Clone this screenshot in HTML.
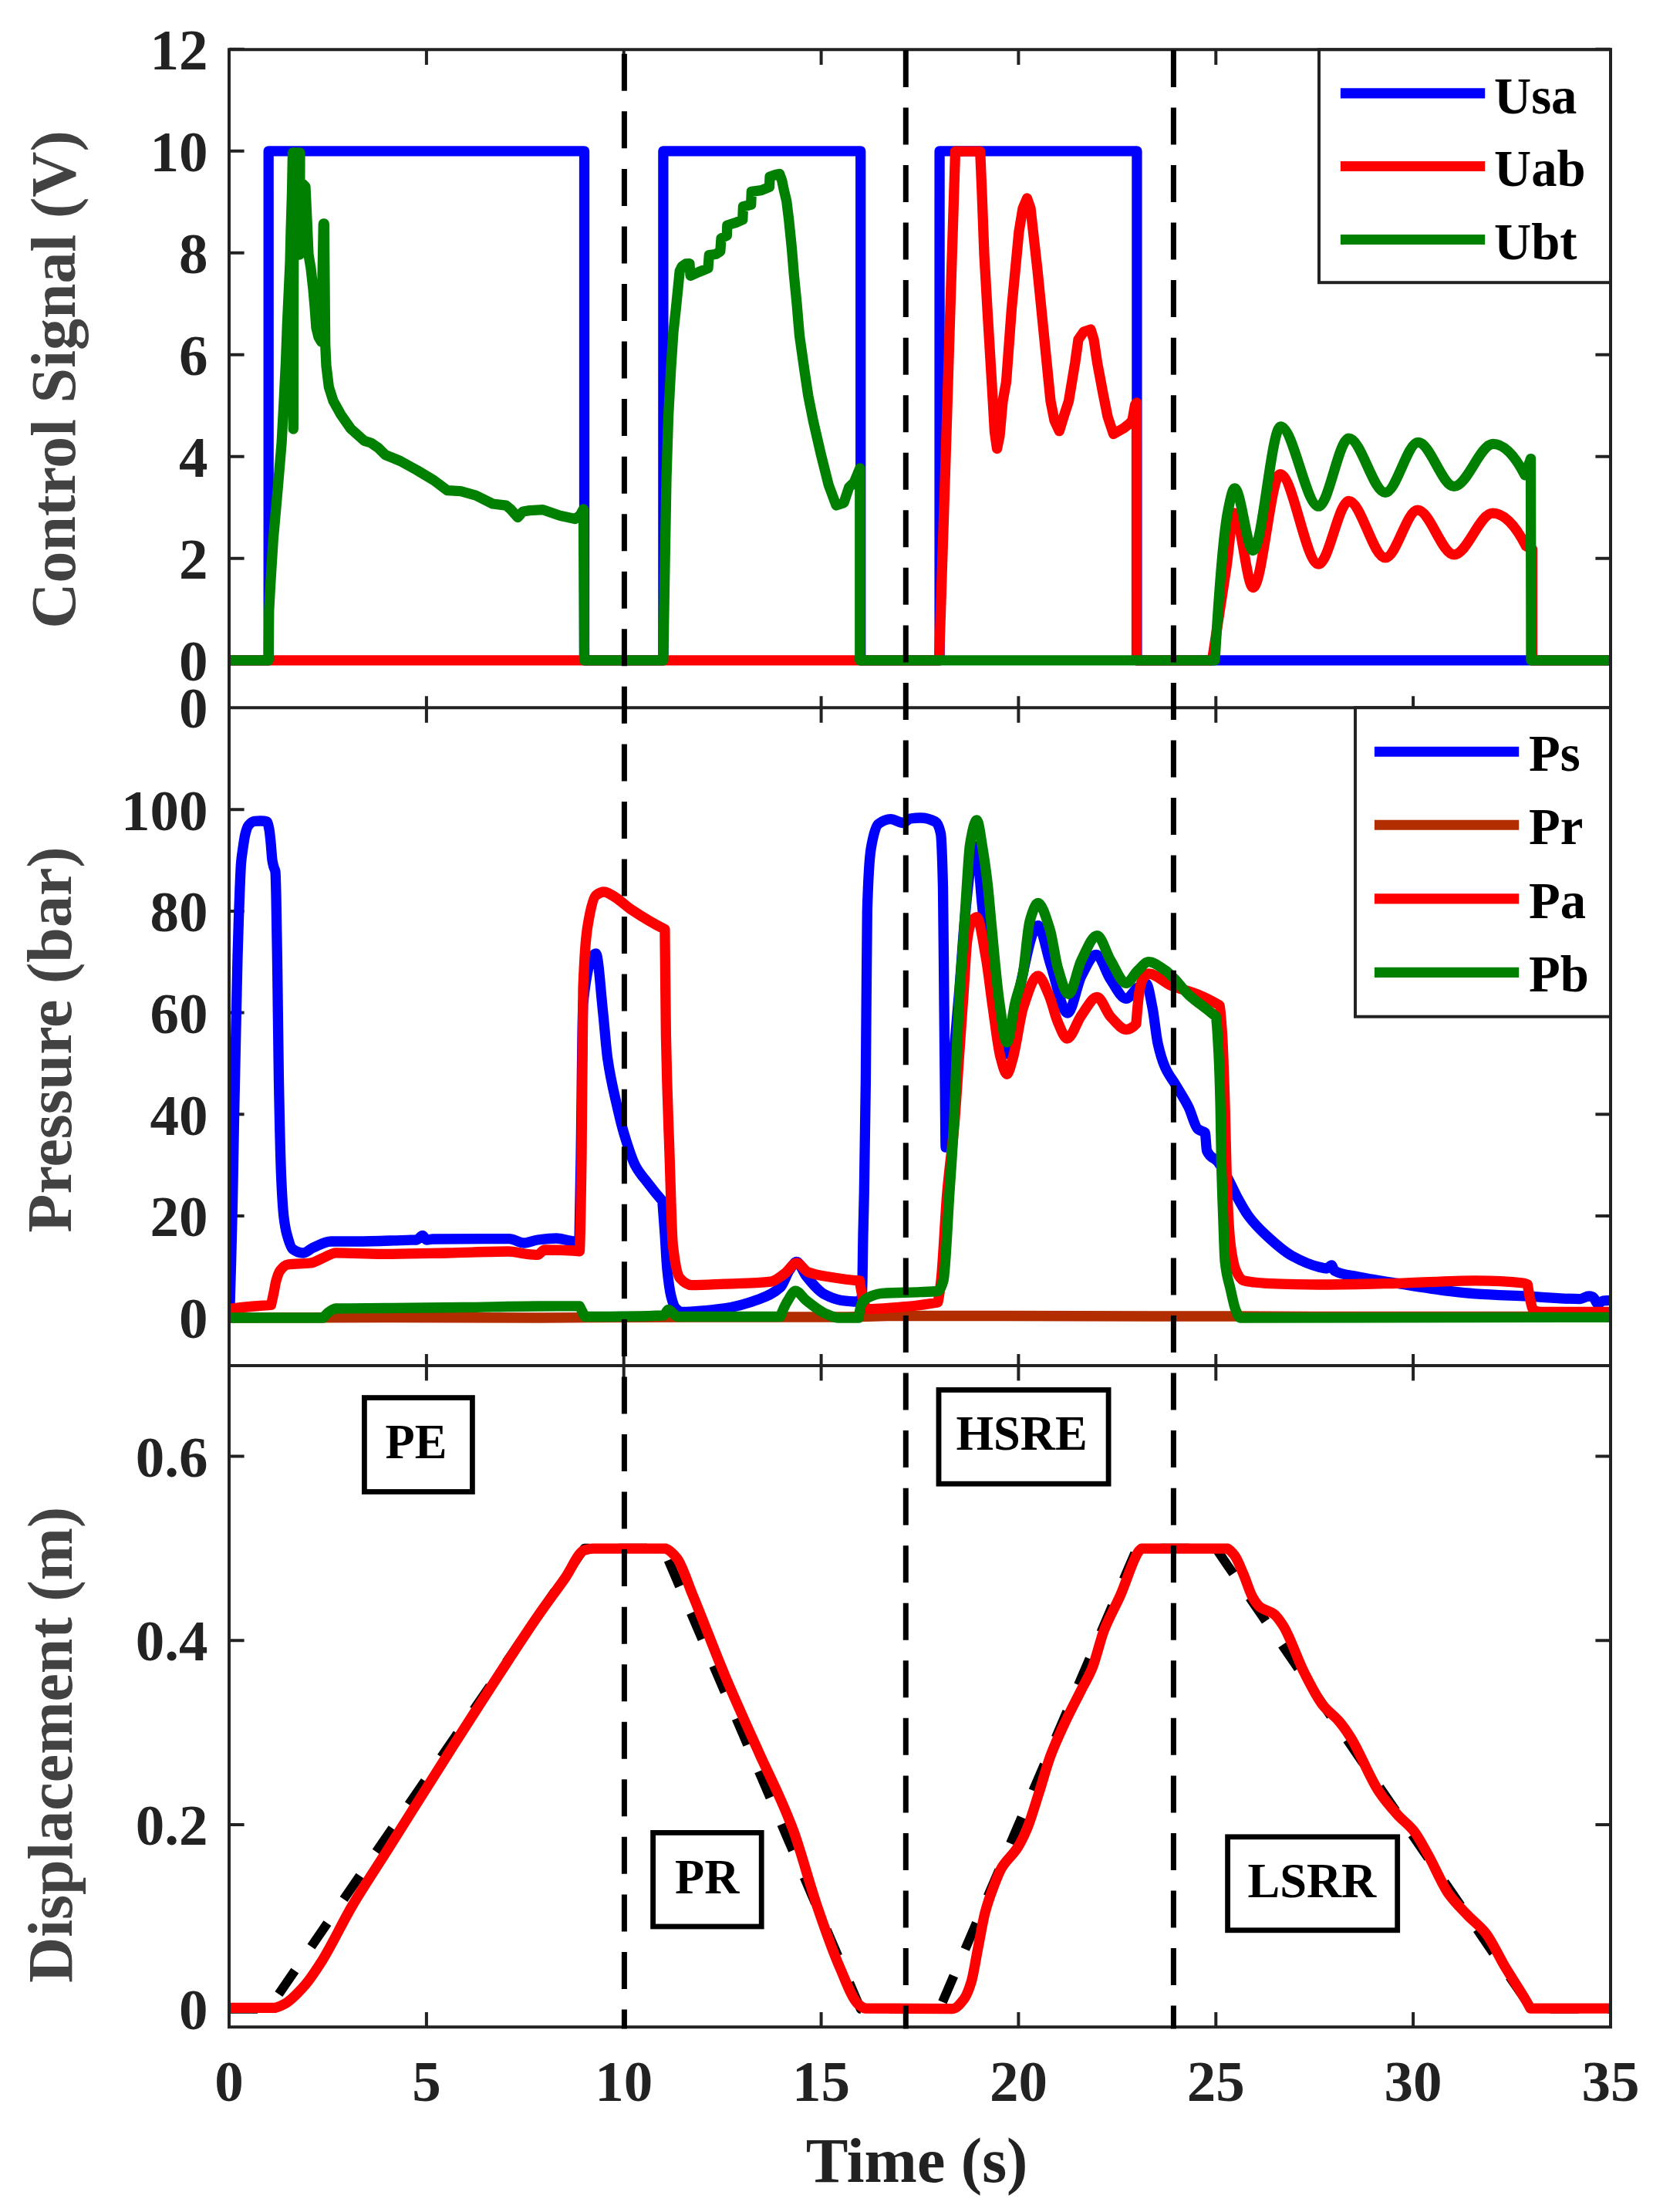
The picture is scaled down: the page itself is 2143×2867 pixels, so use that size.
<!DOCTYPE html>
<html><head><meta charset="utf-8"><title>Control signal, pressure and displacement</title>
<style>html,body{margin:0;padding:0;background:#fff;}svg{display:block;}</style>
</head><body>
<svg width="2143" height="2867" viewBox="0 0 2143 2867">
<rect x="0" y="0" width="2143" height="2867" fill="#ffffff"/>
<defs>
<clipPath id="ctop"><rect x="297.0" y="64.3" width="1791.0" height="852.9"/></clipPath>
<clipPath id="cmid"><rect x="297.0" y="917.2" width="1791.0" height="852.8"/></clipPath>
<clipPath id="cbot"><rect x="297.0" y="1770.0" width="1791.0" height="857.2"/></clipPath>
</defs>
<path d="M297.0 64.3V83.9M552.9 64.3V83.9M808.7 64.3V83.9M1064.6 64.3V83.9M1320.4 64.3V83.9M1576.3 64.3V83.9M1832.1 64.3V83.9M2088.0 64.3V83.9M297.0 917.2V902.2M552.9 917.2V902.2M808.7 917.2V902.2M1064.6 917.2V902.2M1320.4 917.2V902.2M1576.3 917.2V902.2M1832.1 917.2V902.2M2088.0 917.2V902.2M297.0 917.2V936.8M552.9 917.2V936.8M808.7 917.2V936.8M1064.6 917.2V936.8M1320.4 917.2V936.8M1576.3 917.2V936.8M1832.1 917.2V936.8M2088.0 917.2V936.8M297.0 1770.0V1755.0M552.9 1770.0V1755.0M808.7 1770.0V1755.0M1064.6 1770.0V1755.0M1320.4 1770.0V1755.0M1576.3 1770.0V1755.0M1832.1 1770.0V1755.0M2088.0 1770.0V1755.0M297.0 1770.0V1789.6M552.9 1770.0V1789.6M808.7 1770.0V1789.6M1064.6 1770.0V1789.6M1320.4 1770.0V1789.6M1576.3 1770.0V1789.6M1832.1 1770.0V1789.6M2088.0 1770.0V1789.6M297.0 2627.2V2608.0M552.9 2627.2V2608.0M808.7 2627.2V2608.0M1064.6 2627.2V2608.0M1320.4 2627.2V2608.0M1576.3 2627.2V2608.0M1832.1 2627.2V2608.0M2088.0 2627.2V2608.0M297.0 855.8H316.6M2088.0 855.8H2068.4M297.0 723.8H316.6M2088.0 723.8H2068.4M297.0 591.8H316.6M2088.0 591.8H2068.4M297.0 459.8H316.6M2088.0 459.8H2068.4M297.0 327.8H316.6M2088.0 327.8H2068.4M297.0 195.8H316.6M2088.0 195.8H2068.4M297.0 63.8H316.6M2088.0 63.8H2068.4M297.0 1707.6H316.6M2088.0 1707.6H2068.4M297.0 1575.9H316.6M2088.0 1575.9H2068.4M297.0 1444.3H316.6M2088.0 1444.3H2068.4M297.0 1312.6H316.6M2088.0 1312.6H2068.4M297.0 1181.0H316.6M2088.0 1181.0H2068.4M297.0 1049.3H316.6M2088.0 1049.3H2068.4M297.0 2603.8H316.6M2088.0 2603.8H2068.4M297.0 2365.0H316.6M2088.0 2365.0H2068.4M297.0 2126.2H316.6M2088.0 2126.2H2068.4M297.0 1887.4H316.6M2088.0 1887.4H2068.4" stroke="#222222" stroke-width="4.0" fill="none"/>
<g clip-path="url(#ctop)">
<path d="M297.00 855.80L348.17 855.80L348.17 195.80L757.54 195.80L757.54 855.80L859.88 855.80L859.88 195.80L1115.74 195.80L1115.74 855.80L1218.08 855.80L1218.08 195.80L1473.93 195.80L1473.93 855.80L2088.00 855.80" fill="none" stroke="#0000ff" stroke-width="13.30" stroke-linejoin="round" stroke-linecap="round"/>
<path d="M297.00 855.80L1217.50 855.80L1225.80 600.00L1232.00 400.00L1238.50 196.20L1270.70 196.20L1273.00 250.00L1276.00 330.00L1280.00 400.00L1286.00 500.00L1289.50 560.00L1292.60 581.50L1296.00 565.00L1300.00 520.00L1304.50 495.00L1311.50 400.00L1321.00 300.00L1326.00 270.00L1331.50 257.00L1336.00 270.00L1345.00 350.00L1355.00 450.00L1362.00 520.00L1367.00 545.00L1373.30 558.70L1379.00 540.00L1385.50 520.00L1393.80 470.00L1398.00 440.00L1405.00 430.00L1414.00 427.00L1418.00 440.00L1422.50 470.00L1430.00 510.00L1436.00 540.00L1443.50 562.50L1456.80 555.00L1464.40 549.00L1468.00 545.00L1471.50 525.00L1473.50 522.00L1473.50 855.80L1571.50 855.80C1577.67 817.42 1583.83 776.81 1590.00 735.00C1593.33 712.40 1596.67 665.00 1600.00 665.00C1608.20 665.00 1616.40 761.50 1624.60 761.50C1636.23 761.50 1647.87 614.60 1659.50 614.60C1676.17 614.60 1692.83 731.00 1709.50 731.00C1722.57 731.00 1735.63 649.50 1748.70 649.50C1764.47 649.50 1780.23 722.90 1796.00 722.90C1809.97 722.90 1823.93 661.20 1837.90 661.20C1853.63 661.20 1869.37 718.90 1885.10 718.90C1901.77 718.90 1918.43 665.20 1935.10 665.20C1949.50 665.20 1963.90 679.80 1978.30 707.70L1986.50 712.00L1986.50 855.80L2088.00 855.80" fill="none" stroke="#ff0000" stroke-width="13.30" stroke-linejoin="round" stroke-linecap="round"/>
<path d="M297.00 855.80L348.20 855.80L348.80 791.00L350.70 756.00L354.20 700.00L360.40 630.00L365.10 574.00L368.00 520.00L370.50 470.00L372.30 421.00L376.00 341.00L377.00 300.00L378.50 250.00L379.50 198.00L380.00 198.00L380.30 556.00L381.00 198.00L389.00 198.00L388.50 330.00L392.00 238.00L396.00 242.00L398.00 285.00L400.00 330.00L403.00 348.00L406.00 375.00L408.00 398.00L410.00 425.00L413.00 437.00L416.50 443.00L419.30 290.00L420.30 290.00L421.70 447.00L423.00 474.30L426.30 501.40L432.00 519.50L442.00 537.50L454.70 555.60L472.30 571.40L481.00 574.00L490.40 580.50L499.50 589.50L518.90 597.50L540.70 609.50L562.40 622.50L579.90 635.60L597.30 636.70L616.90 642.10L638.70 653.00L656.10 655.20L662.00 660.00L671.30 670.50L678.00 663.00L686.60 661.70L704.00 660.70L725.80 668.30L745.40 672.60L752.00 668.00L756.40 660.00L757.50 855.80L859.90 855.80L861.50 760.00L864.00 620.00L866.50 540.00L869.70 480.00L873.00 430.00L876.30 400.00L879.40 369.40L881.20 351.20L884.20 345.20L889.00 342.00L893.90 341.60L895.10 357.30L906.00 352.50L918.00 347.60L919.30 330.70L927.80 329.50L933.80 325.80L935.00 308.90L942.30 305.30L942.80 292.00L954.40 288.30L962.80 284.70L963.40 267.80L973.70 265.30L974.30 248.40L987.00 246.60L997.50 242.30L998.00 229.00L1005.20 226.60L1010.60 225.40L1013.70 233.90L1016.00 245.00L1019.70 260.50L1022.70 284.70L1026.40 321.00L1029.40 357.30L1033.00 393.60L1036.50 435.00L1042.90 480.00L1047.80 513.00L1054.40 546.00L1064.30 589.00L1074.20 628.50L1084.10 655.00L1094.00 651.60L1100.60 631.80L1107.20 625.20L1114.80 607.00L1114.80 855.80L1575.00 855.80C1580.67 761.05 1586.33 689.76 1592.00 662.00C1594.90 647.79 1597.80 632.80 1600.70 632.80C1608.67 632.80 1616.63 713.60 1624.60 713.60C1636.47 713.60 1648.33 552.90 1660.20 552.90C1676.63 552.90 1693.07 656.20 1709.50 656.20C1722.57 656.20 1735.63 568.20 1748.70 568.20C1764.47 568.20 1780.23 638.40 1796.00 638.40C1810.20 638.40 1824.40 573.40 1838.60 573.40C1854.10 573.40 1869.60 630.40 1885.10 630.40C1901.97 630.40 1918.83 575.40 1935.70 575.40C1949.47 575.40 1963.23 589.56 1977.00 615.80L1984.50 594.60L1985.00 855.80L2088.00 855.80" fill="none" stroke="#008000" stroke-width="13.30" stroke-linejoin="round" stroke-linecap="round"/>
</g>
<g clip-path="url(#cmid)">
<path d="M297.50 1708.00C298.17 1687.33 298.83 1664.50 299.50 1640.00C300.17 1615.50 300.83 1590.88 301.50 1560.00C302.17 1529.12 302.83 1484.26 303.50 1450.00C304.33 1407.17 305.17 1368.66 306.00 1330.00C306.67 1299.07 307.33 1265.35 308.00 1240.00C308.50 1220.99 309.00 1204.81 309.50 1190.00C310.00 1175.19 310.50 1161.64 311.00 1150.00C311.50 1138.36 312.00 1124.99 312.50 1119.00C313.33 1109.02 314.17 1104.74 315.00 1099.00C316.00 1092.11 317.00 1084.84 318.00 1081.00C319.33 1075.88 320.67 1071.59 322.00 1070.00C324.67 1066.81 327.33 1064.65 330.00 1064.40C332.67 1064.15 335.33 1064.00 338.00 1064.00C340.67 1064.00 343.33 1064.25 346.00 1065.00C347.00 1065.28 348.00 1070.07 349.00 1075.00C349.67 1078.29 350.33 1085.48 351.00 1092.00C351.67 1098.52 352.33 1110.69 353.00 1115.00C353.67 1119.31 354.33 1121.60 355.00 1124.00C355.67 1126.40 356.33 1126.00 357.00 1130.00C357.33 1132.00 357.67 1146.97 358.00 1160.00C358.57 1182.16 359.13 1225.22 359.70 1264.00C360.27 1302.78 360.83 1365.02 361.40 1396.00C362.50 1456.13 363.60 1503.82 364.70 1528.00C365.80 1552.18 366.90 1568.99 368.00 1578.00C369.33 1588.92 370.67 1595.19 372.00 1600.00C374.50 1609.01 377.00 1617.23 379.50 1619.00C383.90 1622.11 388.30 1624.00 392.70 1624.00C397.10 1624.00 401.50 1619.08 405.90 1617.20C413.60 1613.91 421.30 1609.00 429.00 1609.00C440.00 1609.00 451.00 1609.00 462.00 1609.00C484.00 1609.00 506.00 1607.86 528.00 1607.30C532.00 1607.20 536.00 1607.21 540.00 1607.00C542.60 1606.87 545.20 1601.50 547.80 1601.50C549.53 1601.50 551.27 1607.00 553.00 1607.00C555.67 1607.00 558.33 1606.04 561.00 1606.00C583.00 1605.67 605.00 1605.60 627.00 1605.60C638.00 1605.60 649.00 1605.60 660.00 1605.60C666.60 1605.60 673.20 1611.00 679.80 1611.00C685.53 1611.00 691.27 1607.72 697.00 1607.00C705.07 1605.99 713.13 1605.00 721.20 1605.00C729.27 1605.00 737.33 1609.00 745.40 1609.00C747.27 1609.00 749.13 1608.45 751.00 1608.00C751.67 1575.38 752.33 1539.50 753.00 1500.00C754.00 1440.75 755.00 1309.18 756.00 1300.00C761.53 1249.20 767.07 1236.00 772.60 1236.00C775.63 1236.00 778.67 1283.91 781.70 1311.70C783.70 1330.02 785.70 1358.09 787.70 1372.00C791.73 1400.05 795.77 1414.87 799.80 1432.70C802.83 1446.11 805.87 1458.86 808.90 1469.00C813.93 1485.83 818.97 1502.05 824.00 1511.40C829.07 1520.82 834.13 1525.86 839.20 1532.50C845.73 1541.06 852.27 1549.20 858.80 1556.70C859.87 1570.12 860.93 1584.64 862.00 1600.00C862.97 1613.92 863.93 1634.91 864.90 1644.50C866.60 1661.36 868.30 1673.30 870.00 1680.00C871.83 1687.22 873.67 1693.10 875.50 1695.00C878.50 1698.11 881.50 1700.40 884.50 1700.40C902.67 1700.40 920.83 1698.23 939.00 1695.90C954.13 1693.96 969.27 1689.41 984.40 1683.80C993.47 1680.44 1002.53 1677.05 1011.60 1668.70C1015.63 1664.99 1019.67 1651.73 1023.70 1646.00C1026.73 1641.69 1029.77 1635.40 1032.80 1635.40C1036.83 1635.40 1040.87 1648.55 1044.90 1653.50C1052.93 1663.37 1060.97 1673.50 1069.00 1677.70C1076.07 1681.40 1083.13 1684.37 1090.20 1685.30C1097.27 1686.23 1104.33 1687.00 1111.40 1687.00C1113.43 1687.00 1115.47 1685.66 1117.50 1680.00C1118.00 1678.61 1118.50 1623.53 1119.00 1600.00C1119.43 1579.61 1119.87 1567.32 1120.30 1545.00C1121.00 1508.95 1121.70 1460.76 1122.40 1400.00C1123.03 1345.03 1123.67 1201.25 1124.30 1180.50C1125.90 1128.09 1127.50 1109.86 1129.10 1100.20C1132.30 1080.89 1135.50 1070.40 1138.70 1068.00C1144.07 1063.97 1149.43 1061.70 1154.80 1061.70C1160.13 1061.70 1165.47 1066.50 1170.80 1066.50C1173.87 1066.50 1176.93 1061.43 1180.00 1061.00C1184.43 1060.38 1188.87 1060.00 1193.30 1060.00C1199.70 1060.00 1206.10 1061.62 1212.50 1065.00C1214.83 1066.23 1217.17 1069.70 1219.50 1080.00C1220.50 1084.41 1221.50 1109.35 1222.50 1150.00C1223.00 1170.32 1223.50 1250.00 1224.00 1300.00C1224.50 1350.00 1225.00 1408.50 1225.50 1450.00C1225.67 1463.83 1225.83 1487.00 1226.00 1487.00C1228.00 1487.00 1230.00 1442.82 1232.00 1420.00C1234.00 1397.18 1236.00 1373.33 1238.00 1350.00C1240.00 1326.67 1242.00 1304.89 1244.00 1280.00C1246.00 1255.11 1248.00 1222.86 1250.00 1200.00C1252.00 1177.14 1254.00 1156.98 1256.00 1140.00C1257.33 1128.68 1258.67 1114.93 1260.00 1110.00C1261.83 1103.22 1263.67 1097.00 1265.50 1097.00C1268.00 1097.00 1270.50 1145.33 1273.00 1170.00C1275.33 1193.02 1277.67 1219.75 1280.00 1240.00C1284.00 1274.72 1288.00 1314.19 1292.00 1330.00C1296.53 1347.92 1301.07 1366.00 1305.60 1366.00C1310.40 1366.00 1315.20 1310.64 1320.00 1290.00C1328.57 1253.17 1337.13 1199.70 1345.70 1199.70C1351.13 1199.70 1356.57 1233.90 1362.00 1250.00C1369.40 1271.93 1376.80 1313.00 1384.20 1313.00C1390.13 1313.00 1396.07 1276.20 1402.00 1265.00C1408.40 1252.92 1414.80 1237.30 1421.20 1237.30C1427.47 1237.30 1433.73 1261.00 1440.00 1270.00C1446.67 1279.58 1453.33 1294.40 1460.00 1294.40C1465.00 1294.40 1470.00 1283.03 1475.00 1280.00C1478.67 1277.78 1482.33 1275.00 1486.00 1275.00C1488.67 1275.00 1491.33 1292.75 1494.00 1305.80C1496.37 1317.38 1498.73 1342.30 1501.10 1352.80C1504.23 1366.70 1507.37 1376.34 1510.50 1383.40C1515.20 1393.99 1519.90 1398.95 1524.60 1406.90C1530.07 1416.15 1535.53 1424.07 1541.00 1435.10C1544.93 1443.04 1548.87 1460.20 1552.80 1463.30C1554.53 1464.67 1556.27 1465.14 1558.00 1466.00C1559.40 1466.69 1560.80 1466.61 1562.20 1468.00C1563.00 1468.79 1563.80 1489.70 1564.60 1491.50C1569.30 1502.06 1574.00 1499.72 1578.70 1505.60C1583.40 1511.47 1588.10 1520.51 1592.80 1529.10C1596.70 1536.23 1600.60 1545.47 1604.50 1552.60C1609.20 1561.19 1613.90 1569.79 1618.60 1576.10C1625.73 1585.68 1632.87 1592.91 1640.00 1599.60C1651.83 1610.70 1663.67 1621.57 1675.50 1628.00C1686.80 1634.14 1698.10 1639.25 1709.40 1642.00C1712.93 1642.86 1716.47 1644.00 1720.00 1644.00C1722.10 1644.00 1724.20 1640.00 1726.30 1640.00C1727.53 1640.00 1728.77 1646.30 1730.00 1647.00C1740.07 1652.70 1750.13 1652.72 1760.20 1654.80C1777.13 1658.30 1794.07 1660.62 1811.00 1663.30C1833.60 1666.87 1856.20 1670.74 1878.80 1673.40C1890.07 1674.72 1901.33 1676.02 1912.60 1676.80C1935.20 1678.37 1957.80 1679.07 1980.40 1680.20C2002.97 1681.33 2025.53 1683.60 2048.10 1683.60C2052.07 1683.60 2056.03 1680.00 2060.00 1680.00C2061.67 1680.00 2063.33 1680.44 2065.00 1681.00C2067.27 1681.76 2069.53 1690.00 2071.80 1690.00C2073.87 1690.00 2075.93 1686.28 2078.00 1686.00C2081.33 1685.55 2084.67 1685.30 2088.00 1685.30" fill="none" stroke="#0000ff" stroke-width="13.30" stroke-linejoin="round" stroke-linecap="round"/>
<path d="M297.00 1708.00L500.00 1707.50L700.00 1708.00L900.00 1707.00L1100.00 1707.00L1150.00 1705.50L1300.00 1705.50L1500.00 1706.00L1600.00 1706.00L1700.00 1706.50L2088.00 1706.50" fill="none" stroke="#b22e00" stroke-width="13.30" stroke-linejoin="round" stroke-linecap="round"/>
<path d="M297.00 1696.40C308.00 1695.08 319.00 1693.94 330.00 1693.00C337.17 1692.39 344.33 1691.85 351.50 1691.40C352.67 1686.13 353.83 1680.65 355.00 1675.00C356.00 1670.16 357.00 1663.51 358.00 1660.00C359.67 1654.14 361.33 1649.17 363.00 1647.00C366.33 1642.67 369.67 1639.48 373.00 1639.00C382.87 1637.57 392.73 1638.23 402.60 1637.00C408.07 1636.32 413.53 1632.59 419.00 1630.40C424.53 1628.19 430.07 1623.80 435.60 1623.80C455.40 1623.80 475.20 1625.40 495.00 1625.40C523.33 1625.40 551.67 1624.56 580.00 1624.00C606.67 1623.47 633.33 1622.00 660.00 1622.00C666.67 1622.00 673.33 1624.33 680.00 1625.00C685.67 1625.57 691.33 1626.30 697.00 1626.30C700.00 1626.30 703.00 1620.00 706.00 1620.00C721.13 1620.00 736.27 1620.00 751.40 1621.80C752.27 1611.77 753.13 1557.84 754.00 1500.00C754.67 1455.51 755.33 1298.69 756.00 1281.50C758.50 1217.05 761.00 1203.97 763.50 1190.70C766.53 1174.60 769.57 1162.83 772.60 1160.50C776.13 1157.79 779.67 1156.00 783.20 1156.00C786.73 1156.00 790.27 1158.65 793.80 1160.50C801.87 1164.72 809.93 1173.23 818.00 1178.60C832.63 1188.34 847.27 1197.31 861.90 1204.40C862.40 1257.53 862.90 1315.35 863.40 1342.00C864.90 1421.96 866.40 1448.39 867.90 1493.20C869.40 1538.01 870.90 1601.26 872.40 1614.20C875.43 1640.37 878.47 1653.18 881.50 1656.60C886.53 1662.28 891.57 1665.60 896.60 1665.60C910.73 1665.60 924.87 1664.68 939.00 1664.10C959.17 1663.28 979.33 1663.27 999.50 1661.10C1005.53 1660.45 1011.57 1654.78 1017.60 1650.50C1022.67 1646.90 1027.73 1637.00 1032.80 1637.00C1037.83 1637.00 1042.87 1647.16 1047.90 1649.00C1056.97 1652.31 1066.03 1653.51 1075.10 1655.00C1088.20 1657.15 1101.30 1659.06 1114.40 1660.00C1115.27 1665.39 1116.13 1670.45 1117.00 1675.00C1118.00 1680.25 1119.00 1687.32 1120.00 1689.40C1122.00 1693.56 1124.00 1696.70 1126.00 1696.70C1144.00 1696.70 1162.00 1694.69 1180.00 1693.00C1191.93 1691.88 1203.87 1690.01 1215.80 1688.00C1217.20 1682.38 1218.60 1672.29 1220.00 1660.00C1222.67 1636.60 1225.33 1575.52 1228.00 1545.00C1231.00 1510.66 1234.00 1494.24 1237.00 1460.00C1239.50 1431.47 1242.00 1388.90 1244.50 1353.50C1246.10 1330.84 1247.70 1308.56 1249.30 1285.70C1250.87 1263.32 1252.43 1228.35 1254.00 1217.80C1255.67 1206.57 1257.33 1198.91 1259.00 1196.00C1261.37 1191.87 1263.73 1188.60 1266.10 1188.60C1270.07 1188.60 1274.03 1218.30 1278.00 1240.00C1281.00 1256.41 1284.00 1284.45 1287.00 1305.00C1290.33 1327.83 1293.67 1357.59 1297.00 1370.00C1299.80 1380.43 1302.60 1392.30 1305.40 1392.30C1307.93 1392.30 1310.47 1380.49 1313.00 1372.00C1317.60 1356.58 1322.20 1318.84 1326.80 1305.00C1333.10 1286.04 1339.40 1265.00 1345.70 1265.00C1350.47 1265.00 1355.23 1279.31 1360.00 1290.00C1363.83 1298.60 1367.67 1316.47 1371.50 1325.00C1375.50 1333.91 1379.50 1346.00 1383.50 1346.00C1389.67 1346.00 1395.83 1324.35 1402.00 1316.00C1408.77 1306.84 1415.53 1292.50 1422.30 1292.50C1428.20 1292.50 1434.10 1311.82 1440.00 1318.00C1446.67 1324.98 1453.33 1334.30 1460.00 1334.30C1464.33 1334.30 1468.67 1331.78 1473.00 1327.00C1474.53 1307.03 1476.07 1289.74 1477.60 1282.30C1479.07 1275.18 1480.53 1270.02 1482.00 1268.00C1484.43 1264.64 1486.87 1262.00 1489.30 1262.00C1498.70 1262.00 1508.10 1273.07 1517.50 1277.00C1529.27 1281.92 1541.03 1284.22 1552.80 1289.00C1562.20 1292.82 1571.60 1297.68 1581.00 1303.00C1582.17 1306.89 1583.33 1323.14 1584.50 1341.00C1585.70 1359.37 1586.90 1396.13 1588.10 1435.00C1588.87 1459.83 1589.63 1509.29 1590.40 1529.00C1591.97 1569.28 1593.53 1598.81 1595.10 1611.40C1597.47 1630.41 1599.83 1641.37 1602.20 1646.60C1605.33 1653.52 1608.47 1658.46 1611.60 1659.50C1616.30 1661.06 1621.00 1661.47 1625.70 1662.00C1631.00 1662.60 1636.30 1663.07 1641.60 1663.30C1664.20 1664.27 1686.80 1665.00 1709.40 1665.00C1743.27 1665.00 1777.13 1664.06 1811.00 1663.30C1844.87 1662.54 1878.73 1659.90 1912.60 1659.90C1933.40 1659.90 1954.20 1660.68 1975.00 1663.00C1976.80 1663.20 1978.60 1664.29 1980.40 1665.00C1981.60 1672.77 1982.80 1679.59 1984.00 1685.00C1985.07 1689.81 1986.13 1696.45 1987.20 1697.20C1990.57 1699.57 1993.93 1700.50 1997.30 1700.50C2027.53 1700.50 2057.77 1700.50 2088.00 1700.50" fill="none" stroke="#ff0000" stroke-width="13.30" stroke-linejoin="round" stroke-linecap="round"/>
<path d="M297.00 1708.00L419.00 1708.00C421.67 1704.65 424.33 1701.70 427.00 1700.00C429.87 1698.17 432.73 1696.06 435.60 1696.00C457.07 1695.56 478.53 1695.69 500.00 1695.50C533.33 1695.21 566.67 1694.91 600.00 1694.50C632.33 1694.11 664.67 1693.10 697.00 1693.00C715.13 1692.94 733.27 1692.90 751.40 1692.90C752.60 1695.46 753.80 1697.86 755.00 1700.00C756.33 1702.38 757.67 1706.50 759.00 1706.50C792.77 1706.50 826.53 1706.39 860.30 1705.00C862.33 1704.92 864.37 1697.40 866.40 1697.40C870.43 1697.40 874.47 1706.50 878.50 1706.50C922.87 1706.50 967.23 1706.50 1011.60 1706.50C1014.63 1698.70 1017.67 1691.72 1020.70 1686.80C1024.23 1681.07 1027.77 1673.20 1031.30 1673.20C1035.83 1673.20 1040.37 1681.73 1044.90 1685.30C1052.93 1691.63 1060.97 1698.47 1069.00 1702.00C1075.07 1704.67 1081.13 1708.00 1087.20 1708.00C1095.80 1708.00 1104.40 1708.00 1113.00 1708.00C1114.33 1700.44 1115.67 1692.35 1117.00 1690.00C1119.67 1685.30 1122.33 1683.34 1125.00 1682.00C1131.13 1678.92 1137.27 1676.83 1143.40 1676.40C1160.03 1675.24 1176.67 1675.41 1193.30 1674.70C1200.80 1674.38 1208.30 1673.94 1215.80 1673.50C1218.20 1673.50 1220.60 1667.86 1223.00 1660.00C1225.67 1651.27 1228.33 1585.28 1231.00 1545.00C1233.00 1514.79 1235.00 1490.19 1237.00 1450.00C1238.23 1425.22 1239.47 1381.78 1240.70 1353.50C1241.80 1328.27 1242.90 1303.91 1244.00 1285.70C1245.67 1258.11 1247.33 1242.36 1249.00 1218.00C1250.43 1197.05 1251.87 1170.53 1253.30 1150.00C1254.70 1129.95 1256.10 1103.48 1257.50 1095.00C1260.47 1077.04 1263.43 1063.00 1266.40 1063.00C1268.93 1063.00 1271.47 1085.10 1274.00 1100.00C1276.27 1113.33 1278.53 1129.94 1280.80 1150.00C1282.20 1162.39 1283.60 1180.59 1285.00 1195.00C1288.50 1231.03 1292.00 1273.46 1295.50 1297.70C1298.80 1320.55 1302.10 1351.00 1305.40 1351.00C1308.93 1351.00 1312.47 1314.76 1316.00 1300.00C1319.33 1286.07 1322.67 1279.74 1326.00 1263.00C1329.00 1247.93 1332.00 1204.41 1335.00 1194.00C1338.57 1181.62 1342.13 1170.50 1345.70 1170.50C1350.87 1170.50 1356.03 1188.83 1361.20 1205.00C1364.63 1215.75 1368.07 1243.71 1371.50 1255.00C1376.10 1270.13 1380.70 1288.50 1385.30 1288.50C1390.87 1288.50 1396.43 1255.66 1402.00 1244.60C1408.77 1231.15 1415.53 1212.60 1422.30 1212.60C1428.20 1212.60 1434.10 1235.36 1440.00 1245.00C1446.67 1255.89 1453.33 1274.40 1460.00 1274.40C1465.00 1274.40 1470.00 1262.58 1475.00 1258.00C1479.77 1253.63 1484.53 1246.70 1489.30 1246.70C1496.37 1246.70 1503.43 1252.84 1510.50 1257.60C1514.40 1260.23 1518.30 1264.32 1522.20 1268.20C1528.47 1274.43 1534.73 1283.42 1541.00 1289.30C1548.87 1296.68 1556.73 1301.80 1564.60 1308.10C1568.50 1311.22 1572.40 1314.36 1576.30 1317.50C1577.47 1322.21 1578.63 1342.57 1579.80 1364.60C1580.60 1379.71 1581.40 1402.47 1582.20 1435.00C1582.60 1451.26 1583.00 1488.93 1583.40 1505.60C1584.17 1537.55 1584.93 1555.20 1585.70 1576.10C1586.50 1597.90 1587.30 1627.40 1588.10 1634.90C1590.43 1656.77 1592.77 1659.83 1595.10 1670.20C1597.47 1680.72 1599.83 1692.95 1602.20 1698.40C1604.13 1702.86 1606.07 1708.00 1608.00 1708.00C1768.00 1708.00 1928.00 1708.00 2088.00 1707.30" fill="none" stroke="#008000" stroke-width="13.30" stroke-linejoin="round" stroke-linecap="round"/>
</g>
<g clip-path="url(#cbot)">
<path d="M297.00 2603.80L348.17 2603.80L757.54 2006.80L859.88 2006.80L1115.74 2603.80L1218.08 2603.80L1473.93 2006.80L1576.28 2006.80L1985.64 2603.80L2088.00 2603.80" fill="none" stroke="#000000" stroke-width="12.00" stroke-linejoin="round" stroke-linecap="butt" stroke-dasharray="37 37.5"/>
<path d="M297.00 2602.40L356.90 2602.40C361.13 2601.31 365.37 2599.37 369.60 2597.00C378.07 2592.26 386.53 2582.95 395.00 2573.40C402.27 2565.20 409.53 2553.93 416.80 2542.50C430.10 2521.57 443.40 2492.52 456.70 2470.00C471.23 2445.39 485.77 2424.01 500.30 2401.00C529.33 2355.03 558.37 2308.47 587.40 2263.00C611.60 2225.10 635.80 2187.34 660.00 2150.50C672.10 2132.08 684.20 2113.51 696.30 2096.00C708.40 2078.49 720.50 2062.41 732.60 2045.30C741.07 2033.33 749.53 2011.27 758.00 2009.00C761.63 2008.03 765.27 2007.20 768.90 2007.20L863.20 2007.20C868.07 2008.40 872.93 2013.87 877.80 2019.90C884.43 2028.12 891.07 2050.52 897.70 2066.50C911.63 2100.06 925.57 2137.88 939.50 2171.00C954.43 2206.50 969.37 2239.24 984.30 2272.40C995.23 2296.68 1006.17 2318.22 1017.10 2344.00C1021.07 2353.35 1025.03 2362.85 1029.00 2373.80C1038.97 2401.30 1048.93 2440.11 1058.90 2469.30C1068.83 2498.39 1078.77 2527.21 1088.70 2549.90C1096.67 2568.10 1104.63 2590.74 1112.60 2597.60C1115.57 2600.15 1118.53 2602.32 1121.50 2603.00L1234.70 2603.70C1239.73 2603.70 1244.77 2597.47 1249.80 2591.00C1252.83 2587.10 1255.87 2579.43 1258.90 2569.80C1261.93 2560.17 1264.97 2539.70 1268.00 2524.50C1271.00 2509.47 1274.00 2490.53 1277.00 2479.10C1281.03 2463.73 1285.07 2453.32 1289.10 2442.80C1292.13 2434.89 1295.17 2426.82 1298.20 2421.60C1305.27 2409.44 1312.33 2405.67 1319.40 2394.40C1323.43 2387.97 1327.47 2379.82 1331.50 2370.20C1336.53 2358.20 1341.57 2340.42 1346.60 2324.80C1351.63 2309.18 1356.67 2290.03 1361.70 2276.40C1367.77 2259.97 1373.83 2247.17 1379.90 2234.10C1386.97 2218.88 1394.03 2205.83 1401.10 2191.70C1406.13 2181.63 1411.17 2173.90 1416.20 2161.50C1421.23 2149.10 1426.27 2126.17 1431.30 2113.10C1438.37 2094.75 1445.43 2083.60 1452.50 2067.70C1460.57 2049.55 1468.63 2020.47 1476.70 2010.20C1477.70 2008.93 1478.70 2008.05 1479.70 2007.20L1591.60 2007.20C1594.63 2008.72 1597.67 2012.23 1600.70 2016.30C1604.50 2021.40 1608.30 2031.79 1612.10 2040.50C1616.13 2049.75 1620.17 2063.80 1624.20 2070.70C1627.23 2075.89 1630.27 2080.47 1633.30 2082.80C1639.33 2087.43 1645.37 2087.45 1651.40 2091.90C1655.43 2094.87 1659.47 2100.78 1663.50 2107.00C1672.57 2120.99 1681.63 2149.77 1690.70 2167.50C1698.77 2183.28 1706.83 2199.69 1714.90 2209.90C1721.97 2218.84 1729.03 2222.78 1736.10 2231.10C1741.13 2237.02 1746.17 2244.24 1751.20 2252.20C1763.30 2271.35 1775.40 2303.76 1787.50 2321.80C1795.57 2333.83 1803.63 2343.07 1811.70 2352.00C1818.77 2359.83 1825.83 2364.31 1832.90 2373.20C1838.97 2380.83 1845.03 2392.81 1851.10 2403.50C1860.17 2419.48 1869.23 2442.18 1878.30 2454.90C1886.37 2466.21 1894.43 2473.56 1902.50 2482.10C1910.57 2490.64 1918.63 2496.03 1926.70 2506.30C1934.77 2516.57 1942.83 2535.15 1950.90 2548.70C1959.97 2563.93 1969.03 2577.07 1978.10 2592.50C1980.10 2595.90 1982.10 2599.51 1984.10 2603.10L2088.00 2603.10" fill="none" stroke="#ff0000" stroke-width="13.30" stroke-linejoin="round" stroke-linecap="round"/>
</g>
<path d="M297.0 64.3H2088.0V2627.2H297.0Z M297.0 917.2H2088.0 M297.0 1770.0H2088.0" stroke="#222222" stroke-width="4.0" fill="none" stroke-linejoin="miter"/>
<line x1="809.4" y1="69.8" x2="809.4" y2="2629.5" stroke="#000" stroke-width="7" stroke-dasharray="48 26.55"/>
<line x1="1174.3" y1="64.9" x2="1174.3" y2="2629.5" stroke="#000" stroke-width="7" stroke-dasharray="48 26.55"/>
<line x1="1521.4" y1="64.9" x2="1521.4" y2="2629.5" stroke="#000" stroke-width="7" stroke-dasharray="48 26.55"/>
<rect x="1710.0" y="64.3" width="378.0" height="301.9" fill="#fff" stroke="#222222" stroke-width="4.0"/>
<line x1="1737.9" y1="120.9" x2="1925.2" y2="120.9" stroke="#0000ff" stroke-width="13.1"/>
<text x="1937.0" y="146.5" style="font-family:'Liberation Serif',serif;font-weight:bold;font-size:66.7px" fill="#000">Usa</text>
<line x1="1737.9" y1="215.5" x2="1925.2" y2="215.5" stroke="#ff0000" stroke-width="13.1"/>
<text x="1937.0" y="241.1" style="font-family:'Liberation Serif',serif;font-weight:bold;font-size:66.7px" fill="#000">Uab</text>
<line x1="1737.9" y1="310.5" x2="1925.2" y2="310.5" stroke="#008000" stroke-width="13.1"/>
<text x="1937.0" y="336.1" style="font-family:'Liberation Serif',serif;font-weight:bold;font-size:66.7px" fill="#000">Ubt</text>
<rect x="1757.0" y="917.2" width="331.0" height="400.5" fill="#fff" stroke="#222222" stroke-width="4.0"/>
<line x1="1781.9" y1="974.3" x2="1969.2" y2="974.3" stroke="#0000ff" stroke-width="13.1"/>
<text x="1982.0" y="999.3" style="font-family:'Liberation Serif',serif;font-weight:bold;font-size:66.7px" fill="#000">Ps</text>
<line x1="1781.9" y1="1069.3" x2="1969.2" y2="1069.3" stroke="#b22e00" stroke-width="13.1"/>
<text x="1982.0" y="1094.3" style="font-family:'Liberation Serif',serif;font-weight:bold;font-size:66.7px" fill="#000">Pr</text>
<line x1="1781.9" y1="1164.9" x2="1969.2" y2="1164.9" stroke="#ff0000" stroke-width="13.1"/>
<text x="1982.0" y="1189.9" style="font-family:'Liberation Serif',serif;font-weight:bold;font-size:66.7px" fill="#000">Pa</text>
<line x1="1781.9" y1="1260.4" x2="1969.2" y2="1260.4" stroke="#008000" stroke-width="13.1"/>
<text x="1982.0" y="1285.4" style="font-family:'Liberation Serif',serif;font-weight:bold;font-size:66.7px" fill="#000">Pb</text>
<rect x="472.4" y="1811.6" width="140.0" height="121.9" fill="none" stroke="#000" stroke-width="6.8"/>
<text x="499.5" y="1889.5" style="font-family:'Liberation Serif',serif;font-weight:bold;font-size:62.5px" fill="#000">PE</text>
<rect x="1217.0" y="1801.5" width="220.1" height="121.7" fill="none" stroke="#000" stroke-width="6.8"/>
<text x="1239.5" y="1879.4" style="font-family:'Liberation Serif',serif;font-weight:bold;font-size:62.5px" fill="#000">HSRE</text>
<rect x="846.6" y="2375.4" width="140.6" height="121.6" fill="none" stroke="#000" stroke-width="6.8"/>
<text x="875.0" y="2454.4" style="font-family:'Liberation Serif',serif;font-weight:bold;font-size:62.5px" fill="#000">PR</text>
<rect x="1591.6" y="2380.8" width="220.1" height="121.0" fill="none" stroke="#000" stroke-width="6.8"/>
<text x="1617.5" y="2459.4" style="font-family:'Liberation Serif',serif;font-weight:bold;font-size:62.5px" fill="#000">LSRR</text>
<text x="269.5" y="882.0" text-anchor="end" style="font-family:'Liberation Serif',serif;font-weight:bold;font-size:75.0px" fill="#222222">0</text>
<text x="269.5" y="750.0" text-anchor="end" style="font-family:'Liberation Serif',serif;font-weight:bold;font-size:75.0px" fill="#222222">2</text>
<text x="269.5" y="618.0" text-anchor="end" style="font-family:'Liberation Serif',serif;font-weight:bold;font-size:75.0px" fill="#222222">4</text>
<text x="269.5" y="486.0" text-anchor="end" style="font-family:'Liberation Serif',serif;font-weight:bold;font-size:75.0px" fill="#222222">6</text>
<text x="269.5" y="354.0" text-anchor="end" style="font-family:'Liberation Serif',serif;font-weight:bold;font-size:75.0px" fill="#222222">8</text>
<text x="269.5" y="222.0" text-anchor="end" style="font-family:'Liberation Serif',serif;font-weight:bold;font-size:75.0px" fill="#222222">10</text>
<text x="269.5" y="90.0" text-anchor="end" style="font-family:'Liberation Serif',serif;font-weight:bold;font-size:75.0px" fill="#222222">12</text>
<text x="269.5" y="943.4" text-anchor="end" style="font-family:'Liberation Serif',serif;font-weight:bold;font-size:75.0px" fill="#222222">0</text>
<text x="269.5" y="1733.8" text-anchor="end" style="font-family:'Liberation Serif',serif;font-weight:bold;font-size:75.0px" fill="#222222">0</text>
<text x="269.5" y="1602.1" text-anchor="end" style="font-family:'Liberation Serif',serif;font-weight:bold;font-size:75.0px" fill="#222222">20</text>
<text x="269.5" y="1470.5" text-anchor="end" style="font-family:'Liberation Serif',serif;font-weight:bold;font-size:75.0px" fill="#222222">40</text>
<text x="269.5" y="1338.8" text-anchor="end" style="font-family:'Liberation Serif',serif;font-weight:bold;font-size:75.0px" fill="#222222">60</text>
<text x="269.5" y="1207.2" text-anchor="end" style="font-family:'Liberation Serif',serif;font-weight:bold;font-size:75.0px" fill="#222222">80</text>
<text x="269.5" y="1075.5" text-anchor="end" style="font-family:'Liberation Serif',serif;font-weight:bold;font-size:75.0px" fill="#222222">100</text>
<text x="269.5" y="2630.0" text-anchor="end" style="font-family:'Liberation Serif',serif;font-weight:bold;font-size:75.0px" fill="#222222">0</text>
<text x="269.5" y="2391.2" text-anchor="end" style="font-family:'Liberation Serif',serif;font-weight:bold;font-size:75.0px" fill="#222222">0.2</text>
<text x="269.5" y="2152.4" text-anchor="end" style="font-family:'Liberation Serif',serif;font-weight:bold;font-size:75.0px" fill="#222222">0.4</text>
<text x="269.5" y="1913.6" text-anchor="end" style="font-family:'Liberation Serif',serif;font-weight:bold;font-size:75.0px" fill="#222222">0.6</text>
<text x="297.0" y="2723.4" text-anchor="middle" style="font-family:'Liberation Serif',serif;font-weight:bold;font-size:75.0px" fill="#222222">0</text>
<text x="552.9" y="2723.4" text-anchor="middle" style="font-family:'Liberation Serif',serif;font-weight:bold;font-size:75.0px" fill="#222222">5</text>
<text x="808.7" y="2723.4" text-anchor="middle" style="font-family:'Liberation Serif',serif;font-weight:bold;font-size:75.0px" fill="#222222">10</text>
<text x="1064.6" y="2723.4" text-anchor="middle" style="font-family:'Liberation Serif',serif;font-weight:bold;font-size:75.0px" fill="#222222">15</text>
<text x="1320.4" y="2723.4" text-anchor="middle" style="font-family:'Liberation Serif',serif;font-weight:bold;font-size:75.0px" fill="#222222">20</text>
<text x="1576.3" y="2723.4" text-anchor="middle" style="font-family:'Liberation Serif',serif;font-weight:bold;font-size:75.0px" fill="#222222">25</text>
<text x="1832.1" y="2723.4" text-anchor="middle" style="font-family:'Liberation Serif',serif;font-weight:bold;font-size:75.0px" fill="#222222">30</text>
<text x="2088.0" y="2723.4" text-anchor="middle" style="font-family:'Liberation Serif',serif;font-weight:bold;font-size:75.0px" fill="#222222">35</text>
<text x="1188.5" y="2827.9" text-anchor="middle" style="font-family:'Liberation Serif',serif;font-weight:bold;font-size:82.0px" fill="#222222">Time (s)</text>
<text transform="translate(96.9 492.0) rotate(-90)" text-anchor="middle" style="font-family:'Liberation Serif',serif;font-weight:bold;font-size:82.0px" fill="#424242">Control Signal (V)</text>
<text transform="translate(91.5 1347.5) rotate(-90)" text-anchor="middle" style="font-family:'Liberation Serif',serif;font-weight:bold;font-size:82.0px" fill="#424242">Pressure (bar)</text>
<text transform="translate(93.4 2261.4) rotate(-90)" text-anchor="middle" style="font-family:'Liberation Serif',serif;font-weight:bold;font-size:82.0px" fill="#424242">Displacement (m)</text>
</svg>
</body></html>
